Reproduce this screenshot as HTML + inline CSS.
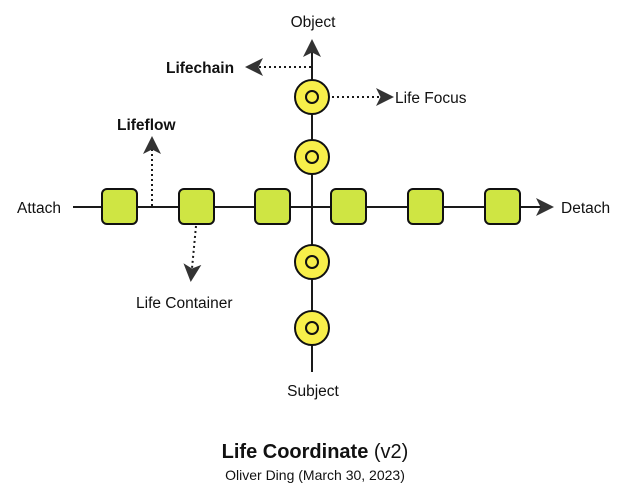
<!DOCTYPE html>
<html><head><meta charset="utf-8"><style>
html,body{margin:0;padding:0;background:#fff;}
svg{display:block;font-family:"Liberation Sans",sans-serif;}
</style></head><body>
<svg width="630" height="495" viewBox="0 0 630 495" xmlns="http://www.w3.org/2000/svg">
<defs>
<marker id="ah" viewBox="0 0 12 12" refX="10" refY="6" markerWidth="18" markerHeight="18" markerUnits="userSpaceOnUse" orient="auto">
<path d="M0,0 L12,6 L0,12 L3,6 Z" fill="#333"/>
</marker>
</defs>
<rect width="630" height="495" fill="#fff"/>
<line x1="73" y1="207" x2="551" y2="207" stroke="#1a1a1a" stroke-width="2" marker-end="url(#ah)"/>
<line x1="312" y1="372" x2="312" y2="42" stroke="#1a1a1a" stroke-width="2" marker-end="url(#ah)"/>
<g stroke="#1a1a1a" stroke-width="2" stroke-dasharray="2,3" fill="none">
<line x1="311" y1="67" x2="248" y2="67" marker-end="url(#ah)"/>
<line x1="332" y1="97" x2="391" y2="97" marker-end="url(#ah)"/>
<line x1="152" y1="206" x2="152" y2="139" marker-end="url(#ah)"/>
<line x1="196" y1="226" x2="191" y2="279" marker-end="url(#ah)"/>
</g>
<g fill="#cfe543" stroke="#111" stroke-width="2">
<rect x="102" y="189" width="35" height="35" rx="5"/>
<rect x="179" y="189" width="35" height="35" rx="5"/>
<rect x="255" y="189" width="35" height="35" rx="5"/>
<rect x="331" y="189" width="35" height="35" rx="5"/>
<rect x="408" y="189" width="35" height="35" rx="5"/>
<rect x="485" y="189" width="35" height="35" rx="5"/>
</g>
<g stroke="#111" stroke-width="2">
<circle cx="312" cy="97" r="17" fill="#f8ef4a"/><circle cx="312" cy="97" r="6" fill="#f8ef4a"/>
<circle cx="312" cy="157" r="17" fill="#f8ef4a"/><circle cx="312" cy="157" r="6" fill="#f8ef4a"/>
<circle cx="312" cy="262" r="17" fill="#f8ef4a"/><circle cx="312" cy="262" r="6" fill="#f8ef4a"/>
<circle cx="312" cy="328" r="17" fill="#f8ef4a"/><circle cx="312" cy="328" r="6" fill="#f8ef4a"/>
</g>
<g fill="#111" font-size="15.5">
<text x="313" y="27" text-anchor="middle">Object</text>
<text x="313" y="396" text-anchor="middle">Subject</text>
<text x="17" y="213">Attach</text>
<text x="561" y="213">Detach</text>
<text x="395" y="103">Life Focus</text>
<text x="136" y="308">Life Container</text>
<text x="166" y="73" font-weight="bold">Lifechain</text>
<text x="117" y="130" font-weight="bold">Lifeflow</text>
</g>
<text x="315" y="458" text-anchor="middle" font-size="20" fill="#111"><tspan font-weight="bold">Life Coordinate</tspan> (v2)</text>
<text x="315" y="480" text-anchor="middle" font-size="14" fill="#111">Oliver Ding (March 30, 2023)</text>
</svg>
</body></html>
